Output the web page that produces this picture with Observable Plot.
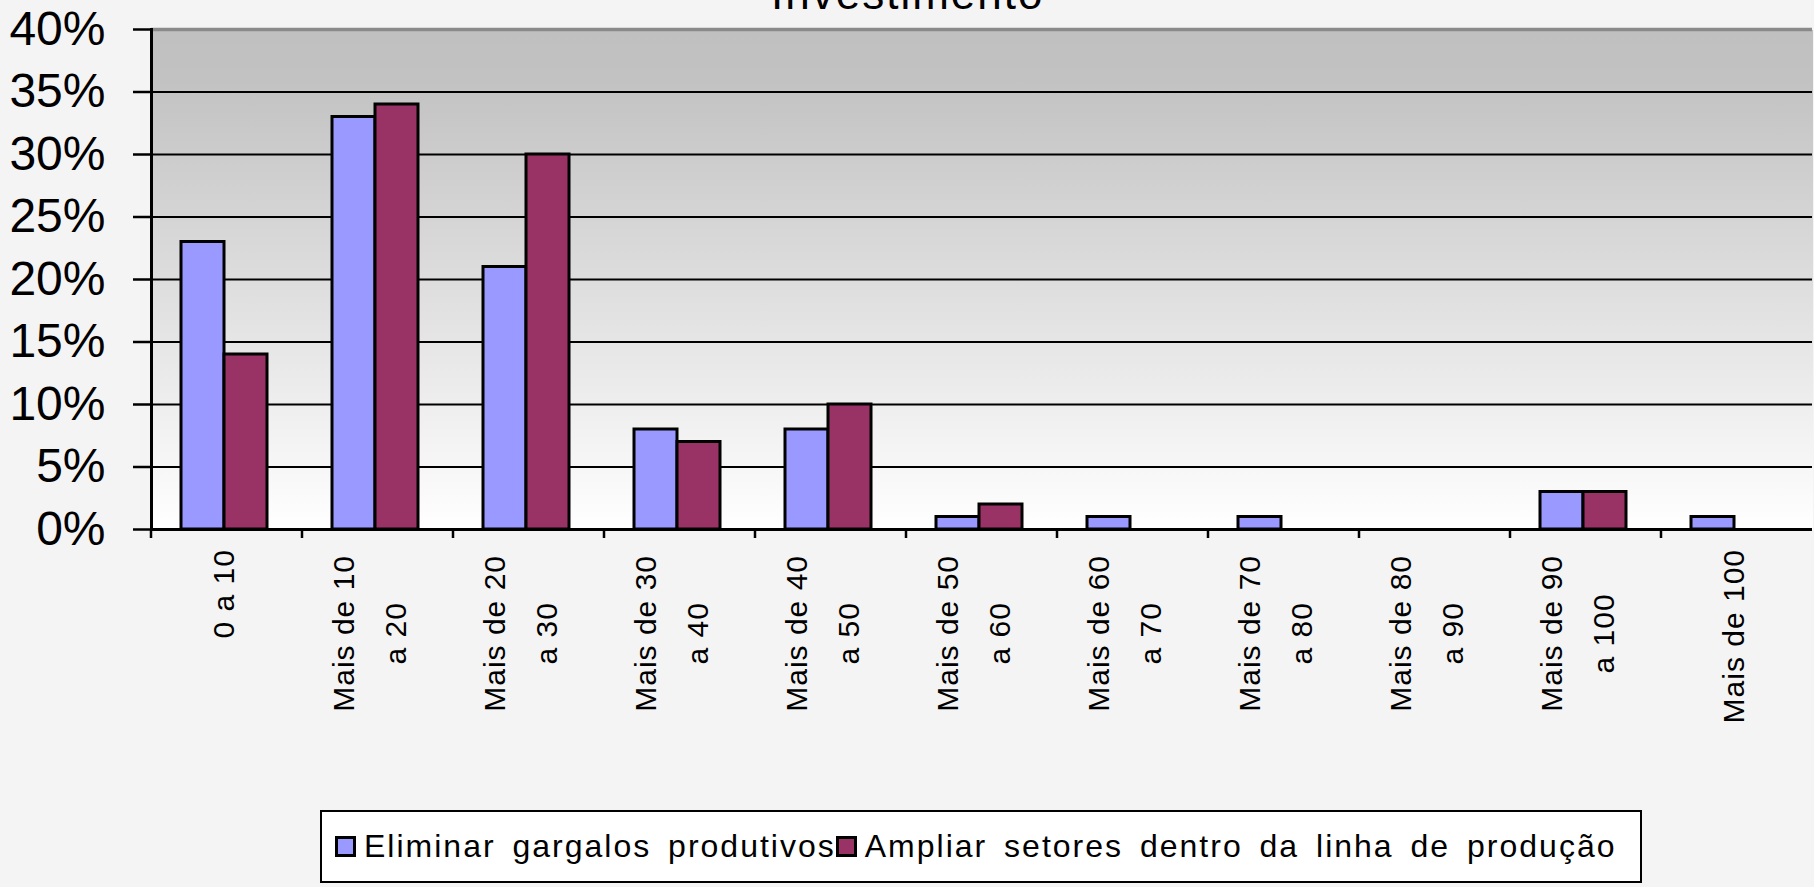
<!DOCTYPE html>
<html><head><meta charset="utf-8">
<script src="https://cdn.jsdelivr.net/npm/d3@7"></script>
<script src="https://cdn.jsdelivr.net/npm/@observablehq/plot@0.6"></script>
<style>
html,body{margin:0;padding:0;background:#f4f4f4;overflow:hidden;}
body{position:relative;width:1814px;height:887px;font-family:Arial,"Liberation Sans",sans-serif;color:#000;}
#title{position:absolute;left:771px;top:-28px;font-size:44px;line-height:44px;letter-spacing:2px;white-space:nowrap;}
#chart svg{display:block;}
#legend{margin-left:320px;margin-top:20px;width:1322px;height:73px;box-sizing:border-box;border:2px solid #000;background:#fff;display:flex;align-items:center;padding-left:13px;font-size:32px;letter-spacing:2px;word-spacing:6px;white-space:nowrap;}
.item{display:flex;align-items:center;margin-right:0}
.sw{width:21px;height:21px;box-sizing:border-box;border:3px solid #000;margin-right:8px}
</style></head>
<body>
<svg width="0" height="0" style="position:absolute"><defs><linearGradient id="plotGrad" x1="0" y1="0" x2="0" y2="1"><stop offset="0" stop-color="#c0c0c0"/><stop offset="0.1" stop-color="#c2c2c2"/><stop offset="1" stop-color="#ffffff"/></linearGradient></defs></svg>
<div id="title"></div>
<div id="chart"></div>
<div id="legend"></div>
<script>
const titleText = "Investimento";
const categories = ["0 a 10", "Mais de 10\na 20", "Mais de 20\na 30", "Mais de 30\na 40", "Mais de 40\na 50", "Mais de 50\na 60", "Mais de 60\na 70", "Mais de 70\na 80", "Mais de 80\na 90", "Mais de 90\na 100", "Mais de 100"];
const seriesNames = ["Eliminar gargalos produtivos", "Ampliar setores dentro da linha de produção"];
const seriesColors = ["#9999ff", "#993366"];
const eliminar = [23, 33, 21, 8, 8, 1, 1, 1, 0, 3, 1];
const ampliar = [14, 34, 30, 7, 10, 2, 0, 0, 0, 3, 0];
const yTicks = [0, 5, 10, 15, 20, 25, 30, 35, 40];
const gridTicks = [5, 10, 15, 20, 25, 30, 35];

const rows = categories.flatMap((c, i) => [
  {cat: c, series: seriesNames[0], value: eliminar[i]},
  {cat: c, series: seriesNames[1], value: ampliar[i]}
]);

document.getElementById("title").textContent = titleText;

const ns = "http://www.w3.org/2000/svg";
function boundaryTick(index, scales, values, dims) {
  const p = document.createElementNS(ns, "path");
  const y0 = dims.height - dims.marginBottom;
  p.setAttribute("d", `M${dims.marginLeft},${y0}V${y0 + 9}`);
  p.setAttribute("stroke", "#000");
  p.setAttribute("stroke-width", 2.5);
  return p;
}

const chart = Plot.plot({
  width: 1814,
  height: 790,
  marginTop: 29,
  marginLeft: 149,
  marginRight: 0,
  marginBottom: 261,
  style: {background: "transparent", overflow: "visible", fontFamily: "Arial, 'Liberation Sans', sans-serif", color: "#000"},
  fx: {domain: categories, padding: 0, axis: null},
  x: {domain: seriesNames, paddingInner: 0, paddingOuter: 0.72, align: 0.46, axis: null},
  y: {domain: [0, 40]},
  color: {domain: seriesNames, range: seriesColors},
  marks: [
    Plot.frame({fill: "url(#plotGrad)", stroke: "none", shapeRendering: "crispEdges"}),
    Plot.ruleY(gridTicks, {stroke: "#000", strokeWidth: 2}),
    Plot.ruleY([40], {stroke: "#8a8a8a", strokeWidth: 3.5}),
    Plot.barY(rows, {fx: "cat", x: "series", y: "value", fill: "series", stroke: "#000", strokeWidth: 3, strokeLinejoin: "miter"}),
    Plot.ruleY([0], {stroke: "#000", strokeWidth: 3}),
    Plot.frame({anchor: "left", facetAnchor: "left", stroke: "#000", strokeWidth: 3}),
    boundaryTick,
    Plot.axisY({ticks: yTicks, tickSize: 18, tickPadding: 28, fontSize: 48, strokeWidth: 2.5, tickFormat: d => d + "%", label: null})
  ]
});
document.getElementById("chart").appendChild(chart);

// Category labels (rotated, lines centred on each other, block top-aligned under the axis),
// placed from the fx scale of the plot.
const fxScale = chart.scale("fx");
const axisBottom = 790 - 261;
const lineGap = 52;       // distance between the two lines of a label
const capH = 21.5;
const gLabels = document.createElementNS(ns, "g");
gLabels.setAttribute("font-size", 30);
gLabels.setAttribute("font-family", "Arial, 'Liberation Sans', sans-serif");
gLabels.setAttribute("letter-spacing", 1);
gLabels.setAttribute("fill", "#000");
gLabels.setAttribute("aria-label", "fx-axis tick label");
chart.appendChild(gLabels);
categories.forEach(c => {
  const lines = c.split("\n");
  const multi = lines.length > 1;
  const text = document.createElementNS(ns, "text");
  text.setAttribute("text-anchor", "middle");
  gLabels.appendChild(text);
  const spans = lines.map((ln, k) => {
    const s = document.createElementNS(ns, "tspan");
    s.textContent = ln;
    s.setAttribute("y", k * lineGap);
    text.appendChild(s);
    return s;
  });
  const maxLen = Math.max(...spans.map(s => s.getComputedTextLength()));
  spans.forEach(s => s.setAttribute("x", -maxLen / 2));
  const center = fxScale.apply(c) + fxScale.bandwidth / 2 + (multi ? -8 : -3);
  const firstBaseline = center - ((lines.length - 1) * lineGap - capH) / 2;
  const top = axisBottom + (multi ? 26 : 20);
  text.setAttribute("transform", `translate(${firstBaseline},${top}) rotate(-90)`);
});

const legend = document.getElementById("legend");
seriesNames.forEach((name, i) => {
  const item = document.createElement("div");
  item.className = "item";
  const sw = document.createElement("div");
  sw.className = "sw";
  sw.style.background = seriesColors[i];
  const label = document.createElement("span");
  label.textContent = name;
  item.appendChild(sw);
  item.appendChild(label);
  legend.appendChild(item);
});
</script>
</body></html>
